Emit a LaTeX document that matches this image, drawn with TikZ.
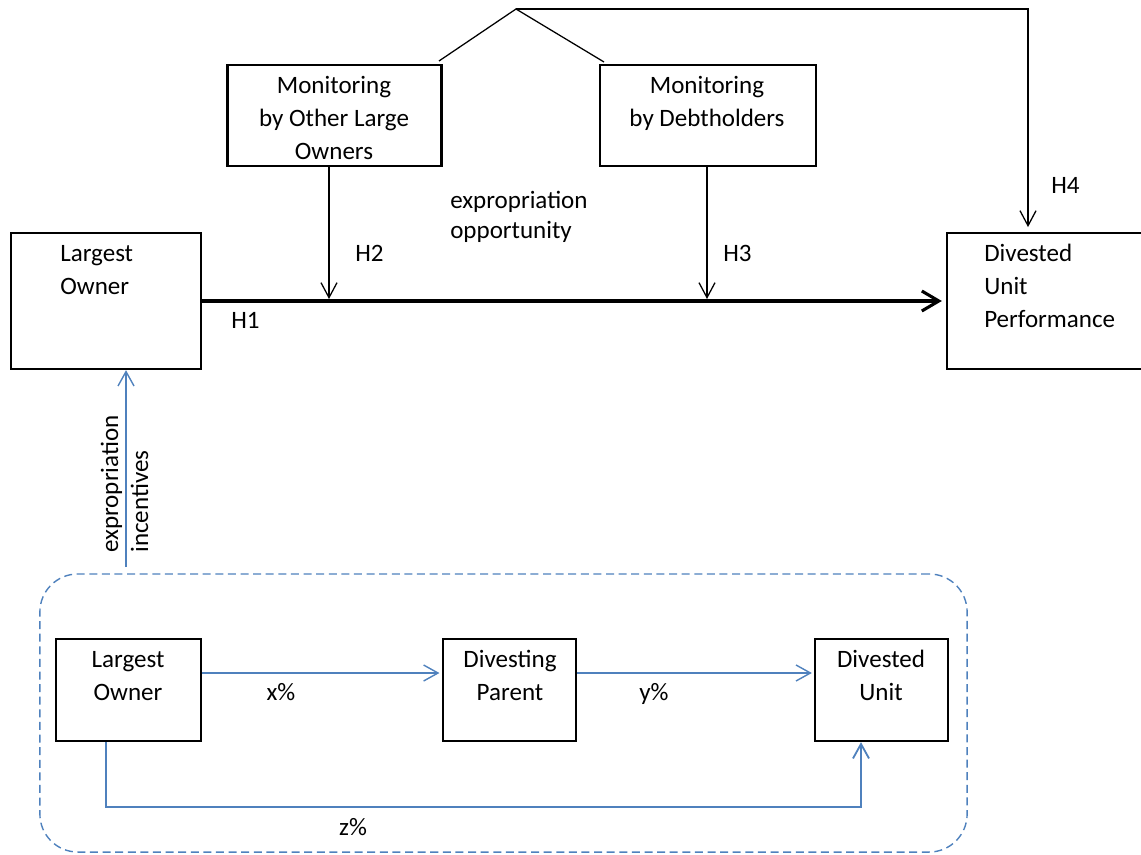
\documentclass[tikz,border=0pt]{standalone}
\usepackage{fontspec}
\setmainfont{Carlito}
\usetikzlibrary{arrows.meta}
\definecolor{ablue}{HTML}{4F81BD}
\begin{document}
\begin{tikzpicture}[x=0.025cm,y=-0.025cm,
  font=\fontsize{17.8}{23.4}\selectfont,
  box/.style={draw=black,line width=1.6pt,inner sep=0pt},
  txt/.style={inner sep=0pt},
  tightlines/.style={font=\fontsize{17.8}{21.3}\selectfont},
  blackarr/.style={draw=black,line width=0.9pt,-{Straight Barb[length=0.375cm,width=0.4cm]}},
  mainarr/.style={draw=black,line width=2.2pt,-{Straight Barb[length=0.425cm,width=0.5cm]}},
  bluearr/.style={draw=ablue,line width=1pt,-{Straight Barb[length=0.36cm,width=0.4cm]}}]
\useasboundingbox (0,0) rectangle (1141,854);

% boxes
\node[box,minimum width=4.75cm,minimum height=3.4cm] (lo) at (106,301) {};
\node[box,minimum width=5.35cm,minimum height=2.525cm] (mo) at (334.5,115.5) {};
\node[box,minimum width=5.4cm,minimum height=2.525cm] (md) at (708,115.5) {};
\node[box,minimum width=4.975cm,minimum height=3.4cm] (du) at (1046.5,301) {};
\node[box,minimum width=3.625cm,minimum height=2.55cm] (blo) at (128.5,690) {};
\node[box,minimum width=3.325cm,minimum height=2.55cm] (dp) at (509.5,690) {};
\node[box,minimum width=3.325cm,minimum height=2.55cm] (bdu) at (881.5,690) {};
\node[draw=ablue,line width=1pt,dash pattern=on 0.2cm off 0.115cm,rounded corners=0.95cm,
      minimum width=23.175cm,minimum height=6.95cm,inner sep=0pt] (grp) at (503.5,713) {};

% texts (anchor = baseline of the last line)
\node[txt,align=center,anchor=base] (tmo) at (334,159) {Monitoring\\by Other Large\\Owners};
\node[txt,align=center,anchor=base] (tmd) at (707,126) {Monitoring\\by Debtholders};
\node[txt,align=left,anchor=base west] (tlo) at (60,294) {Largest\\Owner};
\node[txt,align=left,anchor=base west] (tdu) at (984,327) {Divested\\Unit\\Performance};
\node[txt,tightlines,align=left,anchor=base west] (texp) at (450,238) {expropriation\\opportunity};
\node[txt,anchor=base west] (th1) at (231,328) {H1};
\node[txt,anchor=base west] (th2) at (355,261) {H2};
\node[txt,anchor=base west] (th3) at (723,261) {H3};
\node[txt,anchor=base west] (th4) at (1051,193) {H4};
\node[txt,tightlines,align=left,rotate=90,anchor=base west] (tinc) at (148,553) {expropriation\\incentives};
\node[txt,align=center,anchor=base] (tblo) at (128,700) {Largest\\Owner};
\node[txt,align=center,anchor=base] (tdp) at (510,700) {Divesting\\Parent};
\node[txt,align=center,anchor=base] (tbdu) at (881,700) {Divested\\Unit};
\node[txt,anchor=base] (tx) at (281,700) {x\%};
\node[txt,anchor=base] (ty) at (654,700) {y\%};
\node[txt,anchor=base] (tz) at (353,835) {z\%};

% coordinates
\coordinate (peak) at (516,9);
\coordinate (pl) at (439,61);
\coordinate (pr) at (604,62);
\coordinate (h4) at (1028,9);
\coordinate (h2) at (329,299);
\coordinate (h3) at (707,299);
\coordinate (ei) at (126,567);
\coordinate (xa) at (0,673);
\coordinate (zl) at (106,807);
\coordinate (zr) at (861,807);

% connectors
\draw[mainarr,shorten >=0.1cm] (lo.east) -- (du.west);
\draw[blackarr] (h2 |- mo.south) -- (h2);
\draw[blackarr] (h3 |- md.south) -- (h3);
\draw[draw=black,line width=0.9pt] (pl) -- (peak) -- (pr);
\draw[blackarr,shorten >=0.12cm] (peak) -- (h4) -- (h4 |- du.north);
\draw[bluearr] (ei) -- (ei |- lo.south);
\draw[bluearr,shorten >=0.06cm] (blo.east |- xa) -- (dp.west |- xa);
\draw[bluearr,shorten >=0.05cm] (dp.east |- xa) -- (bdu.west |- xa);
\draw[bluearr,line width=1.3pt] (zl |- blo.south) -- (zl) -- (zr) -- (zr |- bdu.south);
\end{tikzpicture}
\end{document}
